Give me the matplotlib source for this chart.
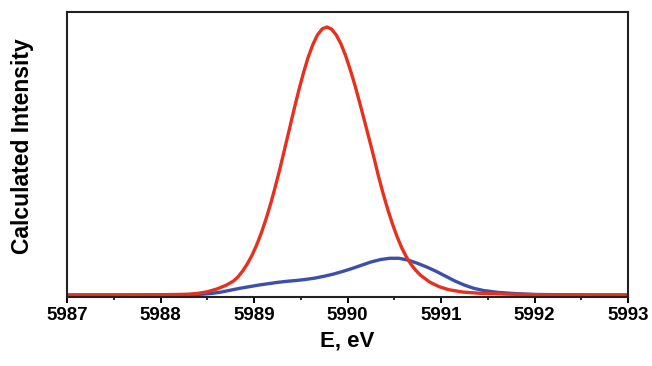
import matplotlib
matplotlib.use("Agg")
import matplotlib.pyplot as plt
from matplotlib.ticker import MultipleLocator, NullLocator

plt.rcParams["font.family"] = ["Liberation Sans", "DejaVu Sans"]

# red curve (intensity normalised to peak = 1)
red_e = [5987.00, 5987.60, 5988.00, 5988.20, 5988.30, 5988.40, 5988.50, 5988.60,
         5988.70, 5988.78, 5988.83, 5988.88, 5988.93, 5988.98, 5989.03, 5989.08,
         5989.13, 5989.18, 5989.23, 5989.28, 5989.33, 5989.38, 5989.43, 5989.48,
         5989.53, 5989.58, 5989.63, 5989.68, 5989.73, 5989.78,
         5989.83, 5989.88, 5989.93, 5989.98, 5990.03, 5990.08, 5990.13, 5990.18,
         5990.23, 5990.28, 5990.33, 5990.38, 5990.43, 5990.48, 5990.53, 5990.58,
         5990.63, 5990.68, 5990.73, 5990.78, 5990.88, 5990.98, 5991.08, 5991.23,
         5991.43, 5991.73, 5992.08, 5992.50, 5993.00]
red_i = [0.000, 0.000, 0.001, 0.002, 0.003, 0.006, 0.012, 0.022,
         0.036, 0.052, 0.068, 0.090, 0.117, 0.149, 0.188, 0.233,
         0.285, 0.343, 0.407, 0.475, 0.548, 0.621, 0.695, 0.765,
         0.830, 0.888, 0.935, 0.971, 0.993, 1.000,
         0.992, 0.970, 0.937, 0.893, 0.840, 0.782, 0.718, 0.652,
         0.585, 0.517, 0.445, 0.380, 0.320, 0.266, 0.218, 0.176,
         0.142, 0.114, 0.092, 0.074, 0.048, 0.031, 0.020, 0.011,
         0.006, 0.003, 0.001, 0.000, 0.000]

# blue curve
blue_e = [5987.00, 5988.00, 5988.30, 5988.45, 5988.55, 5988.65, 5988.75, 5988.85,
          5988.95, 5989.05, 5989.15, 5989.25, 5989.35, 5989.45, 5989.55, 5989.65,
          5989.75, 5989.85, 5989.95, 5990.05, 5990.15, 5990.25, 5990.35, 5990.45,
          5990.55, 5990.65, 5990.75, 5990.85, 5990.95, 5991.05, 5991.15, 5991.25,
          5991.35, 5991.45, 5991.60, 5991.80, 5992.00, 5992.30, 5992.60, 5993.00]
blue_i = [0.000, 0.000, 0.001, 0.003, 0.006, 0.011, 0.018, 0.025,
          0.031, 0.037, 0.042, 0.047, 0.051, 0.054, 0.058, 0.063,
          0.070, 0.078, 0.088, 0.099, 0.111, 0.123, 0.132, 0.137,
          0.137, 0.130, 0.118, 0.104, 0.088, 0.070, 0.052, 0.037,
          0.025, 0.017, 0.010, 0.005, 0.002, 0.001, 0.000, 0.000]

x_ticks = [5987, 5988, 5989, 5990, 5991, 5992, 5993]

fig = plt.figure(figsize=(6.52, 3.66), dpi=100)
ax = fig.add_axes([67 / 652, 1 - 297 / 366, 561 / 652, 285 / 366])

ax.plot(blue_e, blue_i, color="#3a50aa", linewidth=2.4, solid_joinstyle="round")
ax.plot(red_e, red_i, color="#e4321f", linewidth=2.4, solid_joinstyle="round")

ax.set_xlim(5987, 5993)
ax.set_ylim(-0.0075, 1.056)
ax.set_xticks(x_ticks)
ax.set_xticklabels([str(t) for t in x_ticks])
ax.xaxis.set_minor_locator(MultipleLocator(0.5))
ax.yaxis.set_major_locator(NullLocator())

ax.tick_params(axis="x", which="major", direction="out", length=4, width=1.4,
               labelsize=13.5, pad=3)
ax.tick_params(axis="x", which="minor", direction="out", length=2.5, width=1.2)
for lab in ax.get_xticklabels():
    lab.set_fontweight("bold")

for s in ax.spines.values():
    s.set_linewidth(1.5)
    s.set_color("#222222")

ax.set_xlabel("E, eV", fontsize=16, fontweight="bold", labelpad=5)
fig.text(23 / 652, 1 - 146 / 366, "Calculated Intensity", rotation=90,
         fontsize=16.5, fontweight="bold", ha="center", va="center")

fig.savefig("out.png", dpi=100)
